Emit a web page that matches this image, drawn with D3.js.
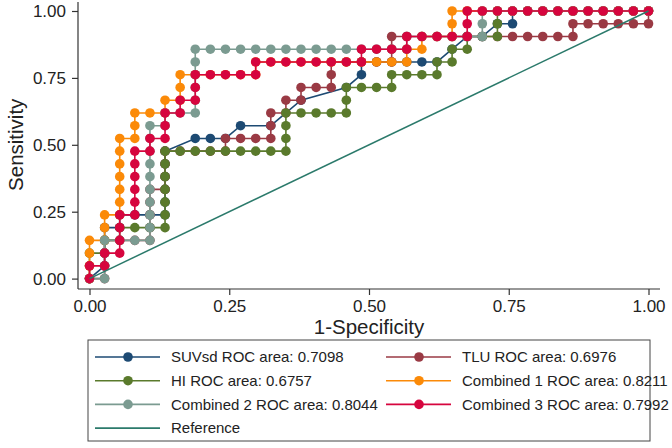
<!DOCTYPE html>
<html>
<head>
<meta charset="utf-8">
<script src="https://cdn.jsdelivr.net/npm/d3@7"></script>
<style>
  body { margin: 0; background: #fff; }
  svg text { font-family: "Liberation Sans", Arial, sans-serif; fill: #222; }
</style>
</head>
<body>
<div id="chart"></div>
<script>
// ROC curves - counts: [false positives, true positives]
const nNeg = 37, nPos = 21;

const suvsd = [[0,0],[1,1],[1,2],[1,3],[1,4],[2,4],[2,5],[3,5],[4,5],[5,5],[5,6],[5,7],[5,8],[5,9],[5,10],
  [7,11],[8,11],[9,11],[10,12],[12,12],[14,14],[17,15],[18,16],[18,17],[19,17],[20,17],[21,17],[22,17],[23,17],
  [24,18],[25,19],[26,19],[27,20],[28,20],[28,21],[29,21],[30,21],[31,21],[32,21],[33,21],[34,21],[35,21],[36,21],[37,21]];

const tlu = [[0,0],[1,0],[1,1],[1,2],[1,3],[2,3],[3,3],[4,3],[4,4],[4,5],[4,6],[4,7],[5,7],[5,8],[5,9],[5,10],
  [6,10],[7,10],[8,10],[9,10],[9,11],[10,11],[11,11],[12,11],[12,12],[12,13],[13,13],[13,14],[14,14],[14,15],
  [15,15],[16,15],[16,16],[16,17],[17,17],[18,17],[19,17],[20,17],[20,18],[20,19],[21,19],[22,19],[23,19],[24,19],
  [25,19],[26,19],[27,19],[28,19],[29,19],[30,19],[31,19],[32,19],[32,20],[33,20],[34,20],[35,20],[36,20],[37,20],[37,21]];

const hi = [[0,0],[0,1],[0,2],[1,2],[1,3],[2,3],[2,4],[3,4],[4,4],[5,4],[5,5],[5,6],[5,7],[5,8],[5,9],[5,10],
  [6,10],[7,10],[8,10],[9,10],[10,10],[11,10],[12,10],[13,10],[13,11],[13,12],[13,13],[14,13],[15,13],[16,13],
  [17,13],[17,14],[17,15],[18,15],[19,15],[20,15],[20,16],[21,16],[22,16],[23,16],[23,17],[24,17],[24,18],[25,18],
  [25,19],[26,19],[27,19],[27,20],[27,21],[28,21],[29,21],[30,21],[31,21],[32,21],[33,21],[34,21],[35,21],[36,21],[37,21]];

const comb1 = [[0,0],[0,1],[0,2],[0,3],[1,3],[1,4],[1,5],[2,5],[2,6],[2,7],[2,8],[2,9],[2,10],[2,11],[3,11],[3,12],
  [3,13],[4,13],[5,13],[5,14],[6,14],[6,15],[6,16],[7,16],[8,16],[9,16],[10,16],[11,16],[11,17],[12,17],[13,17],
  [14,17],[15,17],[16,17],[17,17],[18,17],[19,17],[20,17],[21,17],[21,18],[22,18],[22,19],[23,19],[24,19],[24,20],
  [24,21],[25,21],[26,21],[27,21],[28,21],[29,21],[30,21],[31,21],[32,21],[33,21],[34,21],[35,21],[36,21],[37,21]];

const comb2 = [[0,0],[1,0],[1,1],[1,2],[1,3],[2,3],[3,3],[4,3],[4,4],[4,5],[4,6],[4,7],[4,8],[4,9],[4,10],[4,11],
  [4,12],[5,12],[5,13],[6,13],[7,13],[7,14],[7,15],[7,16],[7,17],[7,18],[8,18],[9,18],[10,18],[11,18],[12,18],
  [13,18],[14,18],[15,18],[16,18],[17,18],[18,18],[19,18],[20,18],[21,18],[21,19],[22,19],[23,19],[24,19],[25,19],
  [26,19],[26,20],[26,21],[27,21],[28,21],[29,21],[30,21],[31,21],[32,21],[33,21],[34,21],[35,21],[36,21],[37,21]];

const comb3 = [[0,0],[0,1],[1,1],[1,2],[2,2],[2,3],[2,4],[2,5],[3,5],[3,6],[3,7],[3,8],[3,9],[3,10],[4,10],[4,11],
  [5,11],[5,12],[5,13],[6,13],[6,14],[7,14],[7,15],[7,16],[8,16],[9,16],[10,16],[11,16],[11,17],[12,17],[13,17],
  [14,17],[15,17],[16,17],[17,17],[18,17],[18,18],[19,18],[20,18],[21,18],[21,19],[22,19],[23,19],[24,19],[25,19],
  [25,20],[25,21],[26,21],[27,21],[28,21],[29,21],[30,21],[31,21],[32,21],[33,21],[34,21],[35,21],[36,21],[37,21]];

const seriesNames = ["SUVsd ROC area: 0.7098", "TLU ROC area: 0.6976", "HI ROC area: 0.6757",
  "Combined 1 ROC area: 0.8211", "Combined 2 ROC area: 0.8044", "Combined 3 ROC area: 0.7992"];
const seriesData = [suvsd, tlu, hi, comb1, comb2, comb3];
const colors = ["#1d4a73", "#9a3a44", "#5a7a2c", "#fb8a08", "#7b9b91", "#d6053e"];
const refColor = "#2b7a6b";
const ticks = [0, 0.25, 0.5, 0.75, 1];

const W = 672, H = 448;
const svg = d3.select("#chart").append("svg").attr("width", W).attr("height", H);

const x = d3.scaleLinear().domain([0, 1]).range([89.5, 648.5]);
const y = d3.scaleLinear().domain([0, 1]).range([278.6, 11]);

// axes
const axisX = 78, axisY = 289;
svg.append("line").attr("x1", axisX).attr("x2", axisX).attr("y1", 2).attr("y2", axisY)
  .attr("stroke", "#333").attr("stroke-width", 1.2);
svg.append("line").attr("x1", axisX).attr("x2", 660).attr("y1", axisY).attr("y2", axisY)
  .attr("stroke", "#333").attr("stroke-width", 1.2);

const gy = svg.append("g").attr("transform", `translate(${axisX},0)`)
  .call(d3.axisLeft(y).tickValues(ticks).tickFormat(d3.format(".2f")).tickSize(6).tickPadding(6));
const gx = svg.append("g").attr("transform", `translate(0,${axisY})`)
  .call(d3.axisBottom(x).tickValues(ticks).tickFormat(d3.format(".2f")).tickSize(6).tickPadding(5));
[gx, gy].forEach(g => {
  g.select(".domain").remove();
  g.selectAll(".tick line").attr("stroke", "#333").attr("stroke-width", 1.2);
  g.selectAll(".tick text").style("font-size", "17px").style("font-family", "Liberation Sans, Arial").attr("fill", "#222");
});

svg.append("text").attr("x", x(0.5)).attr("y", 334).attr("text-anchor", "middle")
  .style("font-size", "20.5px").text("1-Specificity");
svg.append("text").attr("transform", `translate(23,${y(0.5)}) rotate(-90)`).attr("text-anchor", "middle")
  .style("font-size", "20.5px").text("Sensitivity");

// curves
const line = d3.line().x(d => x(d[0] / nNeg)).y(d => y(d[1] / nPos));
seriesData.forEach((data, i) => {
  const g = svg.append("g");
  g.append("path").datum(data).attr("d", line).attr("fill", "none")
    .attr("stroke", colors[i]).attr("stroke-width", 1.6);
  g.selectAll("circle").data(data).enter().append("circle")
    .attr("cx", d => x(d[0] / nNeg)).attr("cy", d => y(d[1] / nPos))
    .attr("r", 4.8).attr("fill", colors[i]);
});

// reference line
svg.append("line").attr("x1", x(0)).attr("y1", y(0)).attr("x2", x(1)).attr("y2", y(1))
  .attr("stroke", refColor).attr("stroke-width", 1.5);

// legend
const lg = svg.append("g");
lg.append("rect").attr("x", 88).attr("y", 340).attr("width", 562).attr("height", 101)
  .attr("fill", "#fff").attr("stroke", "#444").attr("stroke-width", 1);
const legendItems = seriesNames.map((n, i) => ({ name: n, color: colors[i], marker: true }))
  .concat([{ name: "Reference", color: refColor, marker: false }]);
legendItems.forEach((d, i) => {
  const col = i % 2, row = Math.floor(i / 2);
  const lx = col === 0 ? 95 : 386;
  const ly = 357 + row * 23.7;
  lg.append("line").attr("x1", lx).attr("x2", lx + 65).attr("y1", ly).attr("y2", ly)
    .attr("stroke", d.color).attr("stroke-width", 1.6);
  if (d.marker) lg.append("circle").attr("cx", lx + 33).attr("cy", ly).attr("r", 4.8).attr("fill", d.color);
  lg.append("text").attr("x", lx + 76).attr("y", ly + 5.3).style("font-size", "15px").text(d.name);
});
</script>
</body>
</html>
